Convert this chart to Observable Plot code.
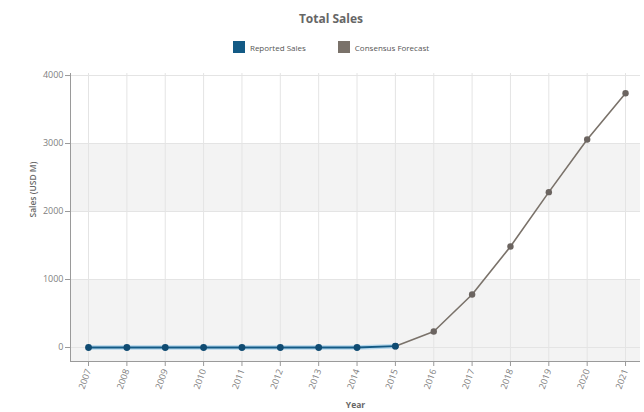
<!DOCTYPE html>
<html><head><meta charset="utf-8">
<script src="https://cdn.jsdelivr.net/npm/d3@7"></script>
<script src="https://cdn.jsdelivr.net/npm/@observablehq/plot@0.6"></script>
<style>
html,body{margin:0;padding:0;background:#fff;}
#wrap{width:644px;height:412px;position:relative;font-family:"Open Sans",sans-serif;overflow:hidden;}
#title{position:absolute;top:10px;left:0;width:662px;text-align:center;font-weight:bold;font-size:12px;color:#666;}
#legend{position:absolute;top:41px;left:0;width:662px;display:flex;justify-content:center;gap:32px;font-size:8px;color:#555;}
#legend .item{display:flex;align-items:center;gap:5px;}
#legend .sw{width:12px;height:12px;display:inline-block;}
#chart{position:absolute;top:60px;left:0;}
</style></head>
<body><div id="wrap"><div id="title"></div><div id="legend"></div><div id="chart"></div></div>
<script>
const title = "Total Sales";
const seriesNames = ["Reported Sales", "Consensus Forecast"];
const seriesColors = ["#135a85", "#7a726a"];
const years = [2007,2008,2009,2010,2011,2012,2013,2014,2015,2016,2017,2018,2019,2020,2021];
const reportedYears = [2007,2008,2009,2010,2011,2012,2013,2014,2015];
const reportedValues = [0,0,0,0,0,0,0,0,20];
const forecastYears = [2015,2016,2017,2018,2019,2020,2021];
const forecastValues = [20,235,780,1485,2285,3060,3740];
const yTicks = [0,1000,2000,3000,4000];
const yDomain = [-206, 4030];
const xDomain = [2006.53, 2021.39];
const bandLo = [yDomain[0], 2000];
const bandHi = [1000, 3000];
const yLabel = "Sales (USD M)";
const xLabel = "Year";

document.getElementById("title").textContent = title;
const lg = document.getElementById("legend");
seriesNames.forEach((n,i)=>{
  const it=document.createElement("span");it.className="item";
  const sw=document.createElement("span");sw.className="sw";sw.style.background=seriesColors[i];
  const t=document.createElement("span");t.textContent=n;
  it.appendChild(sw);it.appendChild(t);lg.appendChild(it);
});

const reported = reportedYears.map((y,i)=>({year:y,value:reportedValues[i]}));
const forecast = forecastYears.map((y,i)=>({year:y,value:forecastValues[i]}));
const bands = bandLo.map((lo,i)=>({lo, hi:bandHi[i]}));

const plot = Plot.plot({
  width: 644, height: 352,
  marginLeft: 70, marginRight: 4, marginTop: 13, marginBottom: 51,
  style: {fontFamily: '"Open Sans",sans-serif', background: "transparent"},
  x: {domain: xDomain, axis: null},
  y: {domain: yDomain, axis: null},
  marks: [
    Plot.rect(bands, {y1: "lo", y2: "hi", fill: "#f3f3f3"}),
    Plot.gridX(years, {stroke: "#e4e4e4", strokeOpacity: 1}),
    Plot.gridY(yTicks, {stroke: "#e4e4e4", strokeOpacity: 1}),
    Plot.ruleX([xDomain[0]], {stroke: "#9a9a9a"}),
    Plot.ruleY([yDomain[0]], {stroke: "#9a9a9a"}),
    Plot.axisY(yTicks, {tickSize: 5, tickPadding: 2, fontSize: 9, color: "#808080", stroke: "#9a9a9a", label: null, tickFormat: d => String(d)}),
    Plot.axisX(years, {tickSize: 5, tickPadding: 3, fontSize: 9, color: "#808080", stroke: "#9a9a9a", tickRotate: -70, tickFormat: d => String(d), label: null}),
    Plot.text([yLabel], {frameAnchor: "left", dx: -37, rotate: -90, fontSize: 8.5, fontWeight: 600, fill: "#666"}),
    Plot.text([xLabel], {frameAnchor: "bottom", dy: 46, fontSize: 8.5, fontWeight: 700, fill: "#666"}),
    Plot.line(forecast, {x: "year", y: "value", stroke: seriesColors[1], strokeWidth: 1.6}),
    Plot.dot(forecast, {x: "year", y: "value", r: 3.2, fill: "#6b6460", stroke: "none"}),
    Plot.line(reported, {x: "year", y: "value", stroke: "#8cc4e8", strokeWidth: 4.5, strokeOpacity: 0.6}),
    Plot.line(reported, {x: "year", y: "value", stroke: seriesColors[0], strokeWidth: 1.8}),
    Plot.dot(reported, {x: "year", y: "value", r: 3.4, fill: "#0f4b72", stroke: "none"})
  ]
});
document.getElementById("chart").appendChild(plot);
</script></body></html>
